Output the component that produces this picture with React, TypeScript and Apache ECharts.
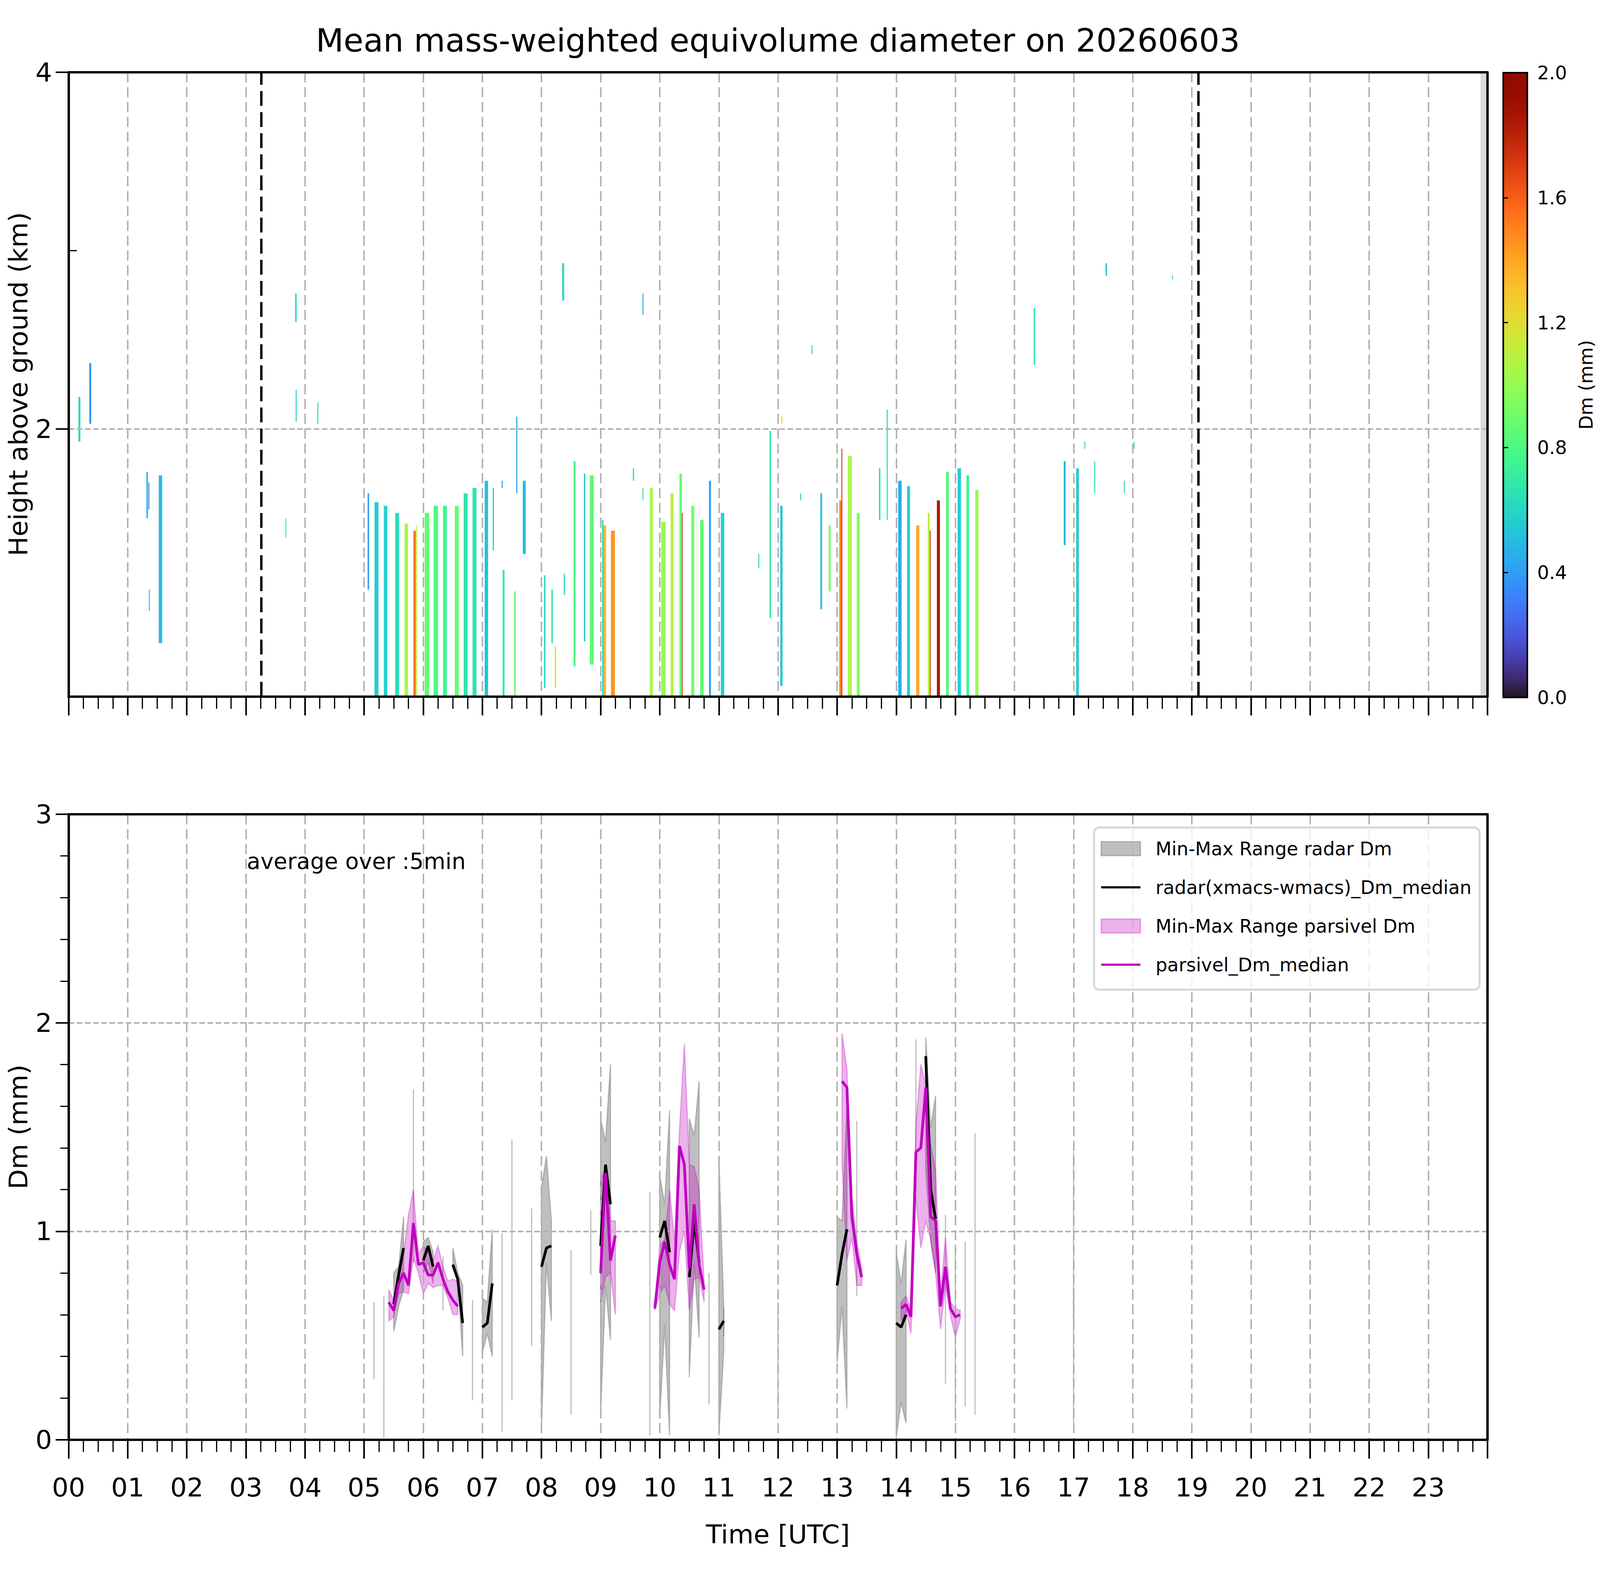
import { useEffect, useRef } from "react";
import * as echarts from "echarts";

const FONT = "DejaVu Sans";
const TITLE = "Mean mass-weighted equivolume diameter on 20260603";
const BASE_W = 7442;
const BASE_H = 4031;

// x axis runs in minutes after 00 UTC
const hourLabels = [
  "00", "01", "02", "03", "04", "05", "06", "07", "08", "09", "10", "11",
  "12", "13", "14", "15", "16", "17", "18", "19", "20", "21", "22", "23",
];
const heightTicks = [2, 4];
const heightMinorTicks = [3];
const sunLines = [195.5, 1146.5]; // dashed markers, minutes
const noDataSpan = [1433, 1440];

// radar Dm curtain: [start min, end min, bottom km, top km, Dm mm]
const radarColumns = [
  [10, 12, 1.93, 2.18, 0.62], [21, 23, 2.03, 2.37, 0.38],
  [79, 80.5, 1.5, 1.76, 0.45], [81, 82, 1.55, 1.7, 0.35], [81.5, 82.3, 0.98, 1.1, 0.4],
  [91.5, 95, 0.8, 1.74, 0.5], [220, 221, 1.39, 1.5, 0.8],
  [230, 231.5, 2.6, 2.76, 0.6], [230.5, 231.5, 2.04, 2.22, 0.55], [252.5, 253.5, 2.03, 2.15, 0.62],
  [303.5, 305, 1.1, 1.64, 0.4], [310.5, 314.5, 0.5, 1.59, 0.55], [320, 323.5, 0.5, 1.57, 0.57],
  [331.5, 335.5, 0.5, 1.53, 0.63], [341, 344.5, 0.5, 1.47, 1.05], [350, 352.5, 0.5, 1.43, 1.55],
  [352.5, 353.5, 0.5, 1.46, 1.1], [361.5, 366, 0.5, 1.53, 0.86], [370.5, 375, 0.5, 1.57, 0.8],
  [380, 384, 0.5, 1.57, 0.76], [392, 396, 0.5, 1.57, 0.88], [401, 405, 0.5, 1.64, 0.66],
  [410, 414, 0.5, 1.67, 0.66], [422.3, 425.8, 0.5, 1.71, 0.52], [430.5, 431.7, 1.32, 1.67, 0.55],
  [439.5, 440.7, 1.67, 1.71, 0.45], [440.5, 442.5, 0.5, 1.21, 0.7], [452.3, 453.9, 0.5, 1.09, 0.9],
  [454.3, 455.5, 1.64, 2.07, 0.45], [461, 464, 1.3, 1.71, 0.5], [482.5, 484, 0.55, 1.18, 0.6],
  [490, 491.5, 0.8, 1.1, 0.65], [493.5, 494.8, 0.55, 0.78, 1.2], [501, 503, 2.72, 2.93, 0.6],
  [502.6, 503.8, 1.07, 1.19, 0.6], [512.5, 514.5, 0.67, 1.82, 0.8], [523, 524.5, 0.81, 1.75, 0.55],
  [529, 533, 0.68, 1.74, 0.85], [541.5, 543, 0.5, 1.49, 0.6], [543, 545.5, 0.5, 1.46, 1.35],
  [550.5, 554.5, 0.5, 1.43, 1.45], [572.7, 574, 1.71, 1.78, 0.65], [582.5, 583.5, 1.6, 1.67, 0.65],
  [582.5, 583.5, 2.64, 2.76, 0.45], [590, 593, 0.5, 1.67, 1.05], [601.5, 606, 0.5, 1.48, 1.0],
  [611, 614, 0.5, 1.64, 1.1], [620, 622.5, 0.5, 1.75, 0.85], [622.5, 623.2, 0.5, 1.53, 1.75],
  [632, 635, 0.5, 1.57, 0.9], [641, 644.5, 0.5, 1.49, 0.85], [650, 652, 0.5, 1.71, 0.4],
  [662, 665.5, 0.5, 1.53, 0.58], [700, 701, 1.22, 1.3, 0.6], [711.4, 713, 0.94, 1.99, 0.7],
  [722.3, 724.7, 0.56, 1.57, 0.55], [723.5, 724.5, 2.03, 2.07, 1.3], [742.5, 743.5, 1.6, 1.64, 0.6],
  [754, 755, 2.42, 2.47, 0.62], [763, 764.8, 0.99, 1.64, 0.5], [771.5, 773.5, 1.09, 1.46, 0.9],
  [782.3, 784.5, 0.5, 1.6, 1.5], [784.5, 785.3, 0.5, 1.89, 1.8], [791, 795, 0.5, 1.85, 1.05],
  [800, 803, 0.5, 1.53, 0.95], [822.5, 824, 1.49, 1.78, 0.65], [830.3, 831.5, 1.49, 2.11, 0.7],
  [842, 845.5, 0.5, 1.71, 0.45], [851, 854, 0.5, 1.68, 0.58], [860.3, 863.5, 0.5, 1.46, 1.4],
  [872, 874, 0.5, 1.53, 1.1], [874, 875, 0.5, 1.43, 1.7], [881.3, 884.4, 0.5, 1.6, 1.85],
  [890.6, 893.4, 0.5, 1.76, 0.82], [902.3, 905.8, 0.5, 1.78, 0.55], [911.3, 914, 0.5, 1.74, 0.75],
  [920.3, 923.4, 0.5, 1.66, 1.0], [979.5, 981, 2.36, 2.68, 0.7], [1010, 1012, 1.35, 1.82, 0.5],
  [1022.7, 1025.4, 0.5, 1.78, 0.55], [1031, 1032, 1.89, 1.93, 0.65], [1041, 1042, 1.64, 1.82, 0.65],
  [1052.5, 1054, 2.86, 2.93, 0.55], [1071, 1072, 1.64, 1.71, 0.7], [1081, 1082, 1.89, 1.93, 0.65],
  [1120, 1121, 2.84, 2.86, 0.6],
];

// 5-min statistics, bottom panel
const radarTimes = [
  "05:10", "05:20", "05:30", "05:35", "05:40", "05:50", "06:00", "06:05", "06:10", "06:20",
  "06:30", "06:35", "06:40", "06:50", "07:00", "07:05", "07:10", "07:20", "07:30", "07:50",
  "08:00", "08:05", "08:10", "08:30", "08:50", "09:00", "09:05", "09:10", "09:50", "10:00",
  "10:05", "10:10", "10:30", "10:35", "10:40", "10:50", "11:00", "11:05", "12:00", "13:00",
  "13:05", "13:10", "13:20", "14:00", "14:05", "14:10", "14:20", "14:30", "14:35", "14:40",
  "14:50", "15:00", "15:10", "15:20", "17:00",
];
const radarMin = [
  0.29, 0.01, 0.52, 0.64, 0.72, 0.85, 0.8, 0.85, 0.75, 0.62,
  0.83, 0.76, 0.4, 0.19, 0.42, 0.51, 0.4, 0.04, 0.19, 0.45,
  0.05, 0.85, 0.57, 0.12, 0.79, 0.12, 0.74, 0.48, 0.02, 0.1,
  0.55, 0.02, 0.3, 0.85, 0.49, 0.17, 0.02, 0.43, 0.1, 0.37,
  0.64, 0.15, 0.69, 0.01, 0.18, 0.08, 1.19, 1.3, 0.95, 0.8,
  0.27, 0.09, 0.16, 0.12, 0.08,
];
const radarMedian = [
  0.47, 0.35, 0.65, 0.79, 0.92, 1.0, 0.86, 0.93, 0.83, 0.75,
  0.84, 0.77, 0.56, 0.45, 0.54, 0.56, 0.75, 0.5, 0.8, 0.8,
  0.83, 0.92, 0.93, 0.5, 0.95, 0.93, 1.32, 1.13, 0.6, 0.97,
  1.05, 0.9, 0.78, 1.05, 0.85, 0.5, 0.53, 0.57, 0.4, 0.74,
  0.89, 1.01, 1.1, 0.56, 0.54, 0.6, 1.5, 1.84, 1.2, 1.06,
  0.6, 0.5, 0.5, 0.8, 0.7,
];
const radarMax = [
  0.66, 0.69, 0.8, 0.83, 1.07, 1.68, 0.95, 0.97, 0.9, 0.88,
  0.92, 0.8, 0.74, 0.67, 0.68, 0.66, 1.01, 0.99, 1.44, 1.11,
  1.21, 1.36, 1.05, 0.91, 1.1, 1.54, 1.43, 1.8, 1.19, 1.27,
  1.13, 1.58, 1.54, 1.46, 1.72, 0.8, 1.36, 0.63, 0.66, 1.07,
  1.05, 1.6, 1.53, 0.9, 0.75, 0.96, 1.92, 1.93, 1.5, 1.65,
  1.08, 0.92, 0.95, 1.47, 1.38,
];

const parsivelTimes = [
  "05:25", "05:30", "05:35", "05:40", "05:45", "05:50", "05:55", "06:00", "06:05", "06:10",
  "06:15", "06:20", "06:25", "06:30", "06:35", "09:00", "09:05", "09:10", "09:15", "09:55",
  "10:00", "10:05", "10:10", "10:15", "10:20", "10:25", "10:30", "10:35", "10:40", "10:45",
  "11:05", "13:05", "13:10", "13:15", "13:20", "13:25", "14:05", "14:10", "14:15", "14:20",
  "14:25", "14:30", "14:35", "14:40", "14:45", "14:50", "14:55", "15:00", "15:05", "17:00",
];
const parsivelMin = [
  0.57, 0.59, 0.7, 0.71, 0.7, 0.87, 0.8, 0.7, 0.75, 0.73,
  0.74, 0.74, 0.68, 0.6, 0.6, 0.66, 0.78, 0.8, 0.6, 0.62,
  0.7, 0.74, 0.65, 0.62, 0.9, 1.0, 0.62, 0.77, 0.78, 0.66,
  0.5, 1.32, 0.86, 0.97, 0.74, 0.74, 0.57, 0.62, 0.51, 1.16,
  0.92, 1.05, 0.96, 0.8, 0.53, 0.74, 0.6, 0.49, 0.58, 0.58,
];
const parsivelMedian = [
  0.66, 0.62, 0.75, 0.8, 0.74, 1.04, 0.84, 0.85, 0.79, 0.79,
  0.85, 0.77, 0.71, 0.67, 0.64, 0.8, 1.28, 0.86, 0.98, 0.63,
  0.85, 0.95, 0.84, 0.77, 1.41, 1.32, 0.82, 1.13, 0.84, 0.72,
  0.57, 1.72, 1.69, 1.07, 0.89, 0.78, 0.63, 0.65, 0.59, 1.38,
  1.4, 1.69, 1.07, 1.05, 0.64, 0.83, 0.63, 0.59, 0.6, 0.65,
];
const parsivelMax = [
  0.72, 0.67, 0.83, 0.89, 1.08, 1.2, 0.89, 0.93, 0.9, 0.86,
  0.93, 0.83, 0.76, 0.77, 0.76, 1.25, 1.3, 1.05, 1.05, 0.64,
  0.93, 0.96, 1.2, 0.95, 1.48, 1.9, 1.32, 1.31, 1.2, 0.76,
  0.63, 1.95, 1.78, 1.17, 0.95, 0.82, 0.66, 0.69, 0.62, 1.51,
  1.8, 1.71, 1.42, 1.29, 0.7, 0.97, 0.66, 0.63, 0.62, 0.73,
];

const toMin = (s: string) => {
  const [h, m] = s.split(":").map(Number);
  return h * 60 + m;
};

// d3 polynomial fit of the turbo colormap
function turbo(t: number) {
  t = Math.max(0, Math.min(1, t));
  const c = (v: number) => Math.max(0, Math.min(255, Math.round(v)));
  const r = 34.61 + t * (1172.33 - t * (10793.56 - t * (33300.12 - t * (38394.49 - t * 14825.05))));
  const g = 23.31 + t * (557.33 + t * (1225.33 - t * (3574.96 - t * (1073.77 + t * 707.56))));
  const b = 27.2 + t * (3211.1 - t * (15327.97 - t * (27814 - t * (22569.18 - t * 6838.66))));
  return `rgb(${c(r)},${c(g)},${c(b)})`;
}
const turboColors = Array.from({ length: 33 }, (_, i) => turbo(i / 32));

function runsOf(times: number[]) {
  const runs: number[][] = [];
  times.forEach((t, i) => {
    if (i === 0 || t - times[i - 1] > 5) runs.push([i]);
    else runs[runs.length - 1].push(i);
  });
  return runs;
}

function medianLine(times: number[], vals: number[]) {
  const out: (number | string)[][] = [];
  times.forEach((t, i) => {
    if (i > 0 && t - times[i - 1] > 5) out.push([t - 1, "-"]);
    out.push([t, vals[i]]);
  });
  return out;
}

export default function App() {
  const ref = useRef<HTMLDivElement>(null);

  useEffect(() => {
    document.body.style.margin = "0";
    if (!ref.current) return;
    const vw = window.innerWidth;
    const vh = window.innerHeight;
    // the layout follows the reference frame; text and strokes use one common factor
    const sx = vw / BASE_W;
    const sy = vh / BASE_H;
    const f = Math.min(sy, sx * 1.25);
    const X = (v: number) => v * sx;
    const Y = (v: number) => v * sy;
    const F = (v: number) => v * f;
    const chart = echarts.init(ref.current, null, { renderer: "svg", width: vw, height: vh });

    const rTimes = radarTimes.map(toMin);
    const pTimes = parsivelTimes.map(toMin);
    const GRAY = "rgba(128,128,128,0.5)";
    const PINK = "rgba(191,0,191,0.3)";
    const LINE_ICON = "path://M0,0H180V10H0Z";

    // vertical grid lines dash along y, horizontal ones along x
    const vGrid = { show: true, lineStyle: { color: "#b0b0b0", width: F(5.5), type: [Y(26), Y(12)] } };
    const hGrid = { show: true, lineStyle: { color: "#b0b0b0", width: F(5.5), type: [X(26), X(12)] } };
    const spine = { show: true, onZero: false, lineStyle: { color: "#000", width: F(9) } };
    const labelStyle = { color: "#000", fontSize: F(97), fontFamily: FONT };
    const font = (size: number) => `${F(size)}px "${FONT}"`;
    const cbFont = Math.min(F(83), X(83) * 1.05);

    const bandSeries = (name: string, times: number[], lo: number[], hi: number[], fill: string) => {
      const runs = runsOf(times);
      return {
        name,
        type: "custom",
        xAxisIndex: 2,
        yAxisIndex: 3,
        z: 1,
        clip: true,
        itemStyle: { color: fill },
        encode: { x: [0, 1], y: [2, 3] },
        data: runs.map((r) => [
          times[r[0]],
          times[r[r.length - 1]],
          Math.min(...r.map((i) => lo[i])),
          Math.max(...r.map((i) => hi[i])),
        ]),
        renderItem: (params: any, api: any) => {
          const r = runs[params.dataIndex];
          const top = r.map((i) => api.coord([times[i], hi[i]]));
          const bottom = r.map((i) => api.coord([times[i], lo[i]])).reverse();
          return {
            type: "polygon",
            shape: { points: top.concat(bottom) },
            style: { fill, stroke: fill, lineWidth: F(4.5) },
          };
        },
      };
    };

    const timeAxis = (gridIndex: number, labels: boolean) => ({
      type: "value",
      gridIndex,
      min: 0,
      max: 1440,
      interval: 60,
      z: 1.5,
      axisLine: spine,
      axisTick: { length: Y(48), lineStyle: { color: "#000", width: F(6) } },
      minorTick: { show: true, splitNumber: 4, length: Y(31), lineStyle: { color: "#000", width: F(4.5) } },
      splitLine: vGrid,
      axisLabel: {
        show: labels,
        ...labelStyle,
        margin: Y(122) - F(48),
        formatter: (v: number) => (v >= 1440 ? "" : hourLabels[Math.round(v / 60)]),
      },
    });
    const topSpine = (gridIndex: number) => ({
      type: "value", gridIndex, position: "top", min: 0, max: 1440, z: 3,
      axisLine: spine, axisTick: { show: false }, axisLabel: { show: false }, splitLine: { show: false },
    });
    const rightSpine = (gridIndex: number, min: number, max: number) => ({
      type: "value", gridIndex, position: "right", min, max, z: 3,
      axisLine: spine, axisTick: { show: false }, axisLabel: { show: false }, splitLine: { show: false },
    });
    const yTick = { length: F(48), lineStyle: { color: "#000", width: F(6) } };

    chart.setOption({
      animation: false,
      backgroundColor: "#fff",
      textStyle: { fontFamily: FONT },
      grid: [
        { left: X(319), top: Y(185), width: X(6599), height: Y(1598) },
        { left: X(319), top: Y(2084), width: X(6599), height: Y(1601) },
        { left: X(6992), top: Y(186), width: X(112), height: Y(1599) },
      ],
      xAxis: [
        timeAxis(0, false),
        topSpine(0),
        timeAxis(1, true),
        topSpine(1),
        { type: "value", gridIndex: 2, min: 0, max: 1, show: false },
      ],
      yAxis: [
        {
          type: "value", gridIndex: 0, min: 0.5, max: 4, z: 1.5,
          axisLine: spine,
          axisTick: { ...yTick, customValues: heightTicks },
          axisLabel: { ...labelStyle, margin: X(77), customValues: heightTicks },
          splitLine: hGrid,
        },
        {
          type: "value", gridIndex: 0, min: 0.5, max: 4, z: 1.5,
          axisLine: { show: false },
          axisTick: { length: F(31), lineStyle: { color: "#000", width: F(4.5) }, customValues: heightMinorTicks },
          axisLabel: { show: false },
          splitLine: { show: false },
        },
        rightSpine(0, 0.5, 4),
        {
          type: "value", gridIndex: 1, min: 0, max: 3, interval: 1, z: 1.5,
          axisLine: spine,
          axisTick: yTick,
          minorTick: { show: true, splitNumber: 5, length: F(31), lineStyle: { color: "#000", width: F(4.5) } },
          axisLabel: { ...labelStyle, margin: X(77) },
          splitLine: hGrid,
        },
        rightSpine(1, 0, 3),
        {
          type: "value", gridIndex: 2, position: "right", min: 0, max: 2, interval: 0.4, z: 3,
          axisLine: { show: false },
          axisTick: { length: F(18), lineStyle: { color: "#000", width: F(4.5) } },
          axisLabel: { color: "#000", fontSize: cbFont, fontFamily: FONT, margin: X(46), formatter: (v: number) => v.toFixed(1) },
          splitLine: { show: false },
        },
      ],
      visualMap: {
        show: false,
        type: "continuous",
        min: 0,
        max: 2,
        dimension: 4,
        seriesIndex: 0,
        inRange: { color: turboColors },
      },
      legend: {
        orient: "vertical",
        right: vw - X(6882),
        top: Y(2118),
        padding: [Y(54) - F(34.5), F(30), Y(64) - F(34.5), F(24)],
        itemWidth: F(146),
        itemHeight: F(52),
        itemGap: Y(99) - F(69),
        selectedMode: false,
        backgroundColor: "rgba(255,255,255,0.8)",
        borderColor: "#d5d5d5",
        borderWidth: F(7),
        borderRadius: F(20),
        textStyle: { color: "#000", fontSize: F(69), fontFamily: FONT, lineHeight: F(69), padding: [0, 0, 0, F(49)] },
        data: [
          { name: "Min-Max Range radar Dm", icon: "rect", itemStyle: { color: GRAY, borderColor: GRAY, borderWidth: F(5) } },
          { name: "radar(xmacs-wmacs)_Dm_median", icon: LINE_ICON, itemStyle: { color: "#000" } },
          { name: "Min-Max Range parsivel Dm", icon: "rect", itemStyle: { color: PINK, borderColor: PINK, borderWidth: F(5) } },
          { name: "parsivel_Dm_median", icon: LINE_ICON, itemStyle: { color: "#bf00bf" } },
        ],
      },
      graphic: [
        { type: "text", x: X(3618), y: Y(103), style: { text: TITLE, font: font(120), fill: "#000", align: "center", verticalAlign: "middle" } },
        { type: "text", x: X(85), y: Y(983), rotation: Math.PI / 2, style: { text: "Height above ground (km)", font: font(97), fill: "#000", align: "center", verticalAlign: "middle" } },
        { type: "text", x: X(85), y: Y(2884), rotation: Math.PI / 2, style: { text: "Dm (mm)", font: font(97), fill: "#000", align: "center", verticalAlign: "middle" } },
        { type: "text", x: X(3618), y: Y(3927), style: { text: "Time [UTC]", font: font(97), fill: "#000", align: "center", verticalAlign: "middle" } },
        { type: "text", x: vw - cbFont * 0.75, y: Y(985), rotation: Math.PI / 2, style: { text: "Dm (mm)", font: `${cbFont}px "${FONT}"`, fill: "#000", align: "center", verticalAlign: "middle" } },
        { type: "text", x: X(1148), y: Y(2204), z: 10, style: { text: "average over :5min", font: font(83), fill: "#000", align: "left", verticalAlign: "middle" } },
      ],
      series: [
        {
          name: "radar Dm curtain",
          type: "custom",
          xAxisIndex: 0,
          yAxisIndex: 0,
          z: 1,
          clip: true,
          encode: { x: [0, 1], y: [2, 3] },
          data: radarColumns,
          renderItem: (params: any, api: any) => {
            const p0 = api.coord([api.value(0), api.value(3)]);
            const p1 = api.coord([api.value(1), api.value(2)]);
            return {
              type: "rect",
              shape: { x: p0[0], y: p0[1], width: Math.max(p1[0] - p0[0], 2), height: p1[1] - p0[1] },
              style: { fill: api.visual("color") },
            };
          },
        },
        {
          name: "markers",
          type: "line",
          xAxisIndex: 0,
          yAxisIndex: 0,
          z: 1,
          data: [],
          markArea: {
            silent: true,
            itemStyle: { color: "#d9d9d9", opacity: 1 },
            data: [[{ xAxis: noDataSpan[0] }, { xAxis: noDataSpan[1] }]],
          },
          markLine: {
            silent: true,
            symbol: ["none", "none"],
            label: { show: false },
            lineStyle: { color: "#000", width: F(9), type: [Y(38), Y(16)], opacity: 1 },
            data: sunLines.map((m) => ({ xAxis: m })),
          },
        },
        bandSeries("Min-Max Range radar Dm", rTimes, radarMin, radarMax, GRAY),
        {
          name: "radar(xmacs-wmacs)_Dm_median",
          type: "line",
          xAxisIndex: 2,
          yAxisIndex: 3,
          z: 2,
          symbol: "none",
          connectNulls: false,
          lineStyle: { color: "#000", width: F(10) },
          itemStyle: { color: "#000" },
          data: medianLine(rTimes, radarMedian),
        },
        bandSeries("Min-Max Range parsivel Dm", pTimes, parsivelMin, parsivelMax, PINK),
        {
          name: "parsivel_Dm_median",
          type: "line",
          xAxisIndex: 2,
          yAxisIndex: 3,
          z: 2,
          symbol: "none",
          connectNulls: false,
          lineStyle: { color: "#bf00bf", width: F(10) },
          itemStyle: { color: "#bf00bf" },
          data: medianLine(pTimes, parsivelMedian),
        },
        {
          name: "colorbar",
          type: "custom",
          xAxisIndex: 4,
          yAxisIndex: 5,
          z: 1,
          encode: { x: [0, 2], y: [1, 3] },
          data: [[0, 0, 1, 2]],
          renderItem: (params: any, api: any) => {
            const a = api.coord([api.value(0), api.value(3)]);
            const b = api.coord([api.value(2), api.value(1)]);
            const stops = turboColors.map((color, i) => ({ offset: i / (turboColors.length - 1), color }));
            return {
              type: "rect",
              shape: { x: a[0], y: a[1], width: b[0] - a[0], height: b[1] - a[1] },
              style: { fill: new echarts.graphic.LinearGradient(0, 1, 0, 0, stops), stroke: "#000", lineWidth: F(6) },
            };
          },
        },
      ],
    });

    return () => chart.dispose();
  }, []);

  return <div ref={ref} style={{ position: "fixed", left: 0, top: 0, width: "100vw", height: "100vh" }} />;
}
